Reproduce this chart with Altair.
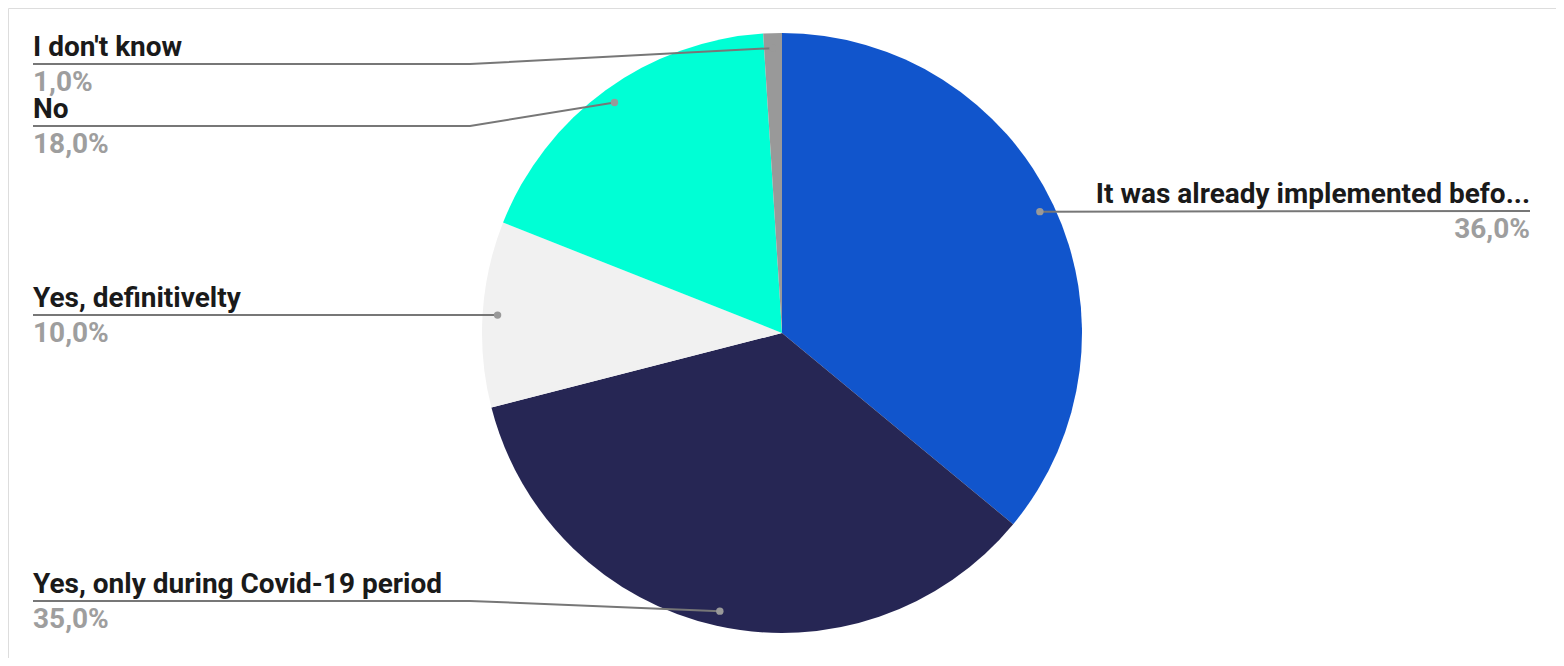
import math
import altair as alt
import pandas as pd

# ---- data ----
labels = ["It was already implemented befo...", "Yes, only during Covid-19 period",
          "Yes, definitivelty", "No", "I don't know"]
values = [36, 35, 10, 18, 1]
colors = ["#1155cc", "#262654", "#f1f1f1", "#00ffd5", "#999999"]

# ---- layout (image pixel coordinates) ----
W, H = 1548, 650
CX, CY, R = 782, 333, 300
label_side = ["right", "left", "left", "left", "left"]
label_line_y = [211, 601, 315, 126, 64]
LEFT_X, KNEE_X, RIGHT_X = 33, 470, 1530
FONT = "Roboto"
FS = 28

total = sum(values)
pct = [f"{v / total * 100:.1f}%".replace(".", ",") for v in values]

# dot positions at the slice mid-angle
dots = []
cum = 0
for v in values:
    mid = (cum + v / 2) / total * 2 * math.pi
    cum += v
    dots.append((CX + 0.95 * R * math.sin(mid), CY - 0.95 * R * math.cos(mid)))

pie_df = pd.DataFrame({"label": labels, "value": values, "idx": range(len(labels))})

line_rows, dot_rows, text_rows = [], [], []
for i, lab in enumerate(labels):
    dx, dy = dots[i]
    ly = label_line_y[i]
    if label_side[i] == "left":
        pts = [(LEFT_X, ly)]
        if abs(dy - ly) > 2:
            pts.append((KNEE_X, ly))
        pts.append((dx, dy))
        tx = LEFT_X
    else:
        pts = [(RIGHT_X, ly), (dx, dy)]
        tx = RIGHT_X
    for k, (px, py) in enumerate(pts):
        line_rows.append({"label": lab, "k": k, "x": px, "y": py})
    dot_rows.append({"label": lab, "x": dx, "y": dy})
    text_rows.append({"label": lab, "pct": pct[i], "x": tx, "ny": ly - 8,
                      "py": ly + 27, "side": label_side[i]})

lines_df = pd.DataFrame(line_rows)
dots_df = pd.DataFrame(dot_rows)
text_df = pd.DataFrame(text_rows)

xs = alt.Scale(domain=[8, 8 + W], nice=False, zero=False)
ys = alt.Scale(domain=[8, 8 + H], nice=False, zero=False, reverse=True)

pie = alt.Chart(pie_df).mark_arc(radius=R, strokeWidth=0).encode(
    theta=alt.Theta("value:Q", stack=True),
    color=alt.Color("label:N", scale=alt.Scale(domain=labels, range=colors), legend=None),
    order=alt.Order("idx:Q"),
    x=alt.value(CX - 8),
    y=alt.value(CY - 8),
)

leader = alt.Chart(lines_df).mark_line(color="#777777", strokeWidth=2).encode(
    x=alt.X("x:Q", scale=xs, axis=None),
    y=alt.Y("y:Q", scale=ys, axis=None),
    detail="label:N",
    order="k:Q",
)

dot = alt.Chart(dots_df).mark_circle(color="#999999", size=55, opacity=1).encode(
    x=alt.X("x:Q", scale=xs, axis=None),
    y=alt.Y("y:Q", scale=ys, axis=None),
)

layers = [pie, leader, dot]
for side, align in (("left", "left"), ("right", "right")):
    sub = text_df[text_df["side"] == side]
    layers.append(alt.Chart(sub).mark_text(
        font=FONT, fontSize=FS, fontWeight="bold", color="#1a1a1a",
        align=align, baseline="alphabetic").encode(
        x=alt.X("x:Q", scale=xs, axis=None),
        y=alt.Y("ny:Q", scale=ys, axis=None),
        text="label:N"))
    layers.append(alt.Chart(sub).mark_text(
        font=FONT, fontSize=FS, fontWeight="bold", color="#9e9e9e",
        align=align, baseline="alphabetic").encode(
        x=alt.X("x:Q", scale=xs, axis=None),
        y=alt.Y("py:Q", scale=ys, axis=None),
        text="pct:N"))

chart = alt.layer(*layers).properties(
    width=W, height=H, padding=0, autosize=alt.AutoSizeParams(type="none")
).configure_view(strokeWidth=0, strokeOpacity=0).configure(background="#ffffff")

chart.save("out.html", embed_options={"renderer": "svg", "actions": False})
